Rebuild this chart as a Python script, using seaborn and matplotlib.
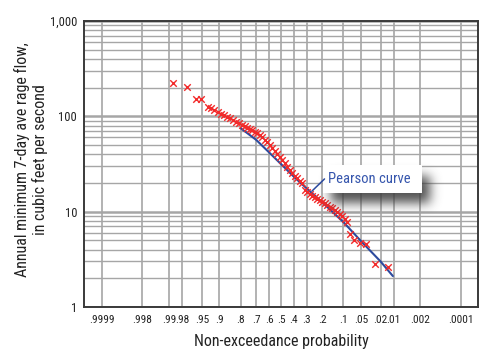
import numpy as np
import pandas as pd
import seaborn as sns
import matplotlib
matplotlib.use("Agg")
import matplotlib.pyplot as plt
from matplotlib import font_manager
from matplotlib.patches import Rectangle
from statistics import NormalDist

# ---------------- data ----------------
obs_p = [0.9877, 0.9749, 0.9613, 0.9512, 0.9362, 0.9272, 0.9173, 0.9060, 0.8941, 0.8822,
         0.8695, 0.8559, 0.8413, 0.8259, 0.8094, 0.7921, 0.7769, 0.7612, 0.7449, 0.7280,
         0.7105, 0.6926, 0.6741, 0.6553, 0.6360, 0.6164, 0.5965, 0.5763, 0.5560, 0.5355,
         0.5149, 0.4942, 0.4736, 0.4530, 0.4326, 0.4124, 0.3923, 0.3726, 0.3532, 0.3341,
         0.3155, 0.2973, 0.2796, 0.2625, 0.2459, 0.2299, 0.2145, 0.1997, 0.1856, 0.1720,
         0.1592, 0.1469, 0.1353, 0.1244, 0.1141, 0.1044, 0.0936, 0.0869, 0.0775, 0.0661,
         0.0516, 0.0392, 0.0262, 0.0134]
obs_q = [222, 202, 152, 152, 126.4, 121.0, 116.2, 111.2, 106.7, 102.7,
         99.0, 95.1, 91.7, 87.8, 84.7, 81.2, 78.7, 76.1, 73.8, 71.5,
         68.9, 66.9, 63.8, 60.4, 56.8, 53.5, 50.1, 46.6, 43.4, 40.3,
         37.5, 34.5, 32.1, 29.4, 27.4, 25.5, 23.7, 22.3, 21.0, 19.8,
         16.7, 15.9, 15.2, 14.6, 14.1, 13.6, 13.1, 12.6, 12.2, 11.8,
         11.3, 10.9, 10.4, 9.9, 9.5, 9.0, 8.4, 7.8, 5.8, 5.05,
         4.66, 4.55, 2.83, 2.63]

curve_p = [0.8, 0.7, 0.6, 0.5, 0.4, 0.3, 0.2, 0.1, 0.05, 0.02, 0.0105]
curve_q = [75.0, 56.8, 41.8, 31.3, 23.4, 17.5, 12.6, 7.8, 4.93, 3.0, 2.11]

x_ticks = [0.9999, 0.998, 0.99, 0.98, 0.95, 0.9, 0.8, 0.7, 0.6, 0.5, 0.4, 0.3,
           0.2, 0.1, 0.05, 0.02, 0.01, 0.002, 0.0001]
x_tick_labels = [".9999", ".998", ".99", ".98", ".95", ".9", ".8", ".7", ".6", ".5",
                 ".4", ".3", ".2", ".1", ".05", ".02", ".01", ".002", ".0001"]
y_ticks = [1, 10, 100, 1000]
y_tick_labels = ["1", "10", "100", "1,000"]

obs = pd.DataFrame({"p": obs_p, "q": obs_q})
curve = pd.DataFrame({"p": curve_p, "q": curve_q})

# ---------------- font choice (prefer a condensed sans) ----------------
sns.set_theme(style="white")
_cands = []
for f in font_manager.fontManager.ttflist:
    st = str(f.stretch)
    if ("Narrow" in f.name or "Condensed" in f.name or "condensed" in st) and \
            f.style == "normal" and "Bold" not in f.name:
        _cands.append((f.name, st))
_pref = ["Liberation Sans Narrow", "Roboto Condensed", "Open Sans Condensed",
         "Noto Sans", "Noto Sans Condensed", "DejaVu Sans Condensed", "DejaVu Sans"]
chosen = None
for pn in _pref:
    for n, st in _cands:
        if n == pn:
            chosen = (n, st)
            break
    if chosen:
        break
if chosen is None and _cands:
    chosen = _cands[0]

if chosen:
    plt.rcParams["font.family"] = [chosen[0], "DejaVu Sans"]
    plt.rcParams["font.stretch"] = chosen[1] if chosen[1] not in ("normal", "500") else "normal"
    FS_LAB, FS_XT, FS_YT, FS_ANN = 11.5, 8.2, 9, 10.5
else:
    plt.rcParams["font.family"] = ["Liberation Sans", "DejaVu Sans"]
    FS_LAB, FS_XT, FS_YT, FS_ANN = 9.5, 7, 8, 9.5

RED = "#f22a2a"
BLUE = "#2c4a9e"
GRID = "#a6a6a6"
TEXT = "#222222"

_nd = NormalDist()
_ppf = np.vectorize(lambda v: _nd.inv_cdf(v) if (v == v and 0 < v < 1) else np.nan, otypes=[float])
_cdf = np.vectorize(lambda v: _nd.cdf(v) if v == v else np.nan, otypes=[float])


def fwd(p):
    p = np.clip(np.asarray(p, dtype=float), 1e-12, 1 - 1e-12)
    return _ppf(p)


def inv(z):
    return _cdf(np.asarray(z, dtype=float))


fig = plt.figure(figsize=(5.0, 3.51), dpi=100)
fig.patch.set_facecolor("white")
ax = fig.add_axes([0.168, 0.1254, 0.788, 0.8148])

ax.set_xscale("function", functions=(fwd, inv))
ax.set_yscale("log")

sns.lineplot(data=curve, x="p", y="q", ax=ax, color=BLUE, linewidth=1.5,
             sort=False, zorder=3)
sns.scatterplot(data=obs, x="p", y="q", ax=ax, marker="x", color=RED, s=22,
                linewidth=1.0, zorder=4)

ax.set_xlim(0.999978, 0.0000235)
ax.set_ylim(1, 1000)
ax.set_autoscale_on(False)

# grid
ax.set_xticks(x_ticks)
ax.set_xticklabels(x_tick_labels)
ax.set_yticks(y_ticks)
ax.set_yticklabels(y_tick_labels)
ax.yaxis.set_minor_locator(matplotlib.ticker.LogLocator(base=10, subs=np.arange(2, 10)))
ax.yaxis.set_minor_formatter(matplotlib.ticker.NullFormatter())
ax.xaxis.set_minor_locator(matplotlib.ticker.NullLocator())
ax.grid(True, which="major", axis="x", color=GRID, linewidth=1.2)
ax.grid(True, which="major", axis="y", color=GRID, linewidth=1.8)
ax.grid(True, which="minor", axis="y", color=GRID, linewidth=1.0)
ax.set_axisbelow(True)

ax.tick_params(axis="both", which="both", length=0)
ax.tick_params(axis="x", pad=6, labelsize=FS_XT, labelcolor=TEXT)
ax.tick_params(axis="y", pad=5, labelsize=FS_YT, labelcolor=TEXT)

for s in ax.spines.values():
    s.set_color("#3a3a3a")
    s.set_linewidth(1.4)

ax.set_xlabel("Non-exceedance probability", fontsize=FS_LAB, color=TEXT)
ax.xaxis.set_label_coords(0.5, -0.121)
ax.xaxis.label.set_va("center")
ax.set_ylabel("Annual minimum 7-day ave rage flow,\nin cubic feet per second",
              fontsize=FS_LAB, color=TEXT, linespacing=1.2)
ax.yaxis.set_label_coords(-0.1345, 0.514)
ax.yaxis.label.set_va("center")

# ---------------- annotation box with soft shadow ----------------
AX_W, AX_H = 394.0, 286.0   # axes size in pixels
bx0, bx1 = 0.6066, 0.858    # box in axes fraction
by0, by1 = 0.3986, 0.4965

pad = 30
W = int((bx1 - bx0) * AX_W) + 2 * pad
H = int((by1 - by0) * AX_H) + 2 * pad
img = np.zeros((H, W))
off_x, off_y, sig = 8, 11, 5.5
r0 = pad + off_y
r1 = pad + int((by1 - by0) * AX_H) + off_y
c0 = pad + off_x
c1 = pad + int((bx1 - bx0) * AX_W) + off_x
img[r0:r1, c0:c1] = 1.0
k = np.arange(-16, 17)
g = np.exp(-0.5 * (k / sig) ** 2)
g /= g.sum()
img = np.apply_along_axis(lambda r: np.convolve(r, g, mode="same"), 1, img)
img = np.apply_along_axis(lambda c: np.convolve(c, g, mode="same"), 0, img)
rgba = np.zeros((H, W, 4))
rgba[..., :3] = 0.25
rgba[..., 3] = img * 0.9
ext = [bx0 - pad / AX_W, bx0 - pad / AX_W + W / AX_W,
       by1 + pad / AX_H - H / AX_H, by1 + pad / AX_H]
ax.imshow(rgba, extent=ext, transform=ax.transAxes, aspect="auto",
          zorder=5, interpolation="bilinear")

ax.add_patch(Rectangle((bx0, by0), bx1 - bx0, by1 - by0, transform=ax.transAxes,
                       facecolor="white", edgecolor="none", zorder=6))
ax.text(bx0 + 0.012, 0.447, "Pearson curve", transform=ax.transAxes,
        ha="left", va="center", fontsize=FS_ANN, color="#3656ad", zorder=7)
ax.annotate("", xy=(0.5736, 0.3986), xytext=(0.6155, 0.4545),
            xycoords="axes fraction", textcoords="axes fraction",
            arrowprops=dict(arrowstyle="-", color=BLUE, lw=1.1), zorder=7)

ax.set_xlim(0.999978, 0.0000235)
ax.set_ylim(1, 1000)

fig.savefig("out.png", dpi=100, facecolor="white")
